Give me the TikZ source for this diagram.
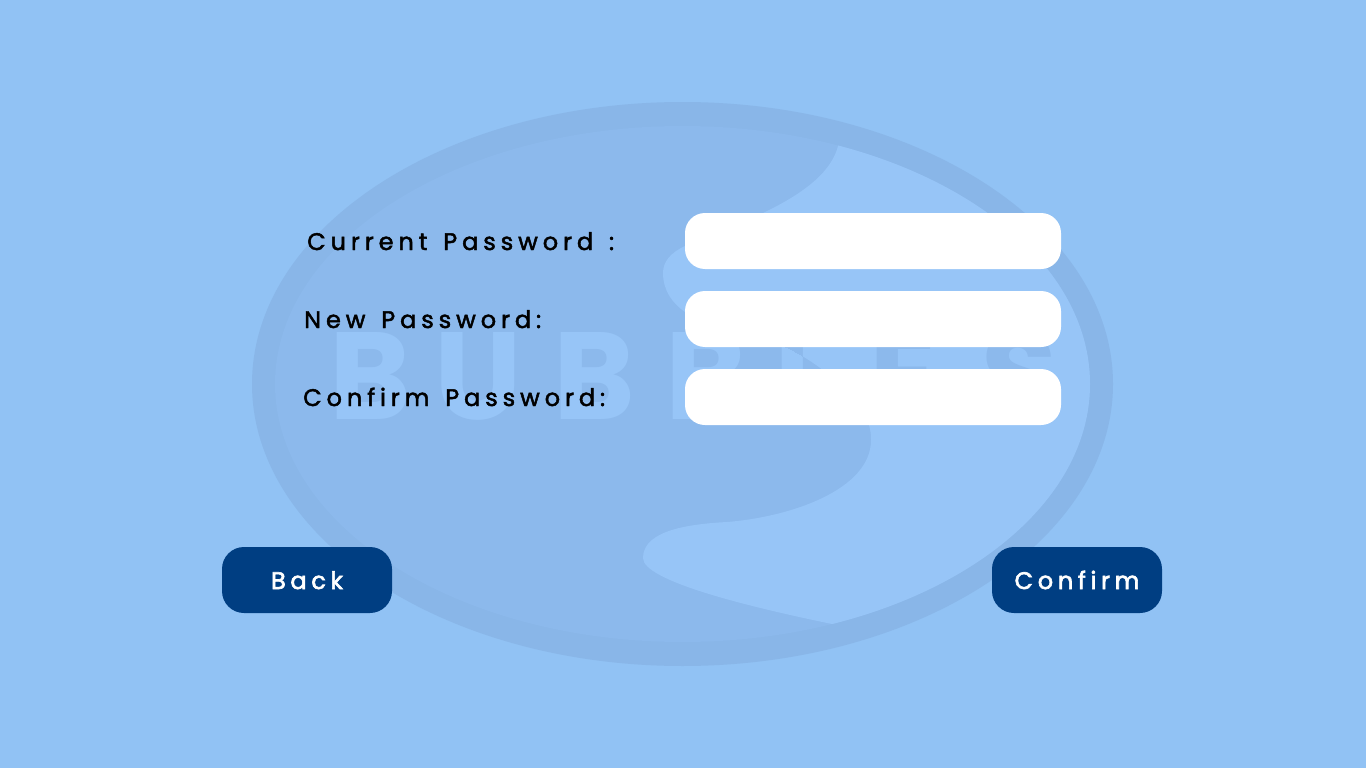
\documentclass[tikz,border=0pt]{standalone}
\usepackage{fontspec}
\usepackage{xcolor}
\setmainfont{Poppins}
\newfontfamily\labelfont[LetterSpace=20.5,WordSpace=1.4,FakeBold=2]{Poppins}
\newfontfamily\navfont[LetterSpace=19.5,FakeBold=2.5]{Poppins}
\newfontfamily\logofont{Poppins}
\definecolor{Sky}{HTML}{91C2F4}
\definecolor{Ring}{HTML}{89B6E8}
\definecolor{Shade}{HTML}{8CB9EC}
\definecolor{Pale}{HTML}{97C5F7}
\definecolor{Navy}{HTML}{003E82}
\tikzset{
  fieldbox/.style={fill=white,rounded corners=20pt,minimum width=376pt,minimum height=56pt,inner sep=0pt},
  navbutton/.style={fill=Navy,rounded corners=22pt,minimum width=170pt,minimum height=66pt,inner sep=0pt,
    text=white,text height=18pt,text depth=0pt,font=\navfont\fontsize{24}{29}\selectfont},
  fieldlabel/.style={anchor=base west,inner sep=0pt,text=black,font=\labelfont\fontsize{24}{29}\selectfont},
  logoletter/.style={anchor=base west,inner sep=0pt,font=\logofont\bfseries\fontsize{124}{130}\selectfont}
}
\newcommand{\logoletters}[1]{
  \foreach \ch/\xpos in {B/329,U/434,B/553,B/665,L/774,E/869,S/981}{
    \node[logoletter,text=#1] (letter\xpos) at (\xpos,419) {\ch};
  }
}
\begin{document}
\begin{tikzpicture}[x=1pt,y=-1pt]
    \useasboundingbox (0,0) rectangle (1366,768);
    \fill[Sky] (0,0) rectangle (1366,768);

    \fill[Ring] (682.5,384) ellipse [x radius=430.5,y radius=282];
    \fill[Shade] (682.5,384) ellipse [x radius=407.5,y radius=258];
    \logoletters{Pale}
    \begin{scope}
      \clip (682.5,384) ellipse [x radius=407.5,y radius=258];
      \clip (838,146) .. controls (830,178) and (790,200) .. (763,213)
        .. controls (735,227) and (710,238) .. (685,246)
        .. controls (670,253) and (663,262) .. (663,273)
        .. controls (663,290) and (672,303) .. (685,312)
        .. controls (710,325) and (750,332) .. (783,346)
        .. controls (815,360) and (860,395) .. (869,425)
        .. controls (871,432) and (871,436) .. (871,440)
        .. controls (871,490) and (790,517) .. (727,522)
        .. controls (690,524) and (643,530) .. (643,558)
        .. controls (643,580) and (740,605) .. (832,624)
        -- (1200,624) -- (1200,100) -- (838,100) -- cycle;
      \fill[Pale] (0,0) rectangle (1366,768);
      \logoletters{Shade}
    \end{scope}

    \node[fieldbox] (currentfield) at (873,241) {};
    \node[fieldbox] (newfield) at (873,319) {};
    \node[fieldbox] (confirmfield) at (873,397) {};
    \node[fieldlabel] (currentlabel) at (307,250) {Current Password :};
    \node[fieldlabel] (newlabel) at (304,328) {New Password:};
    \node[fieldlabel] (confirmlabel) at (303,406) {Confirm Password:};

    \node[navbutton] (backbutton) at (307,580) {Back};
    \node[navbutton] (confirmbutton) at (1077,580) {Confirm};
  \end{tikzpicture}
\end{document}
